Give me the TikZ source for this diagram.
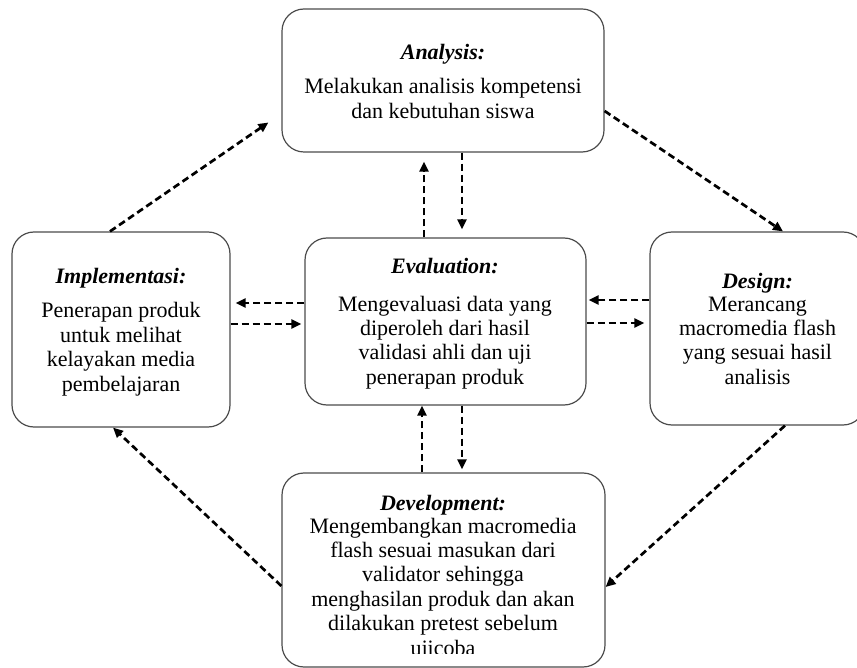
\documentclass[tikz,border=0pt]{standalone}
\usepackage{fontspec}
\setmainfont{Liberation Serif}
\usetikzlibrary{arrows.meta,calc}
\begin{document}
\begin{tikzpicture}[x=1pt,y=-1pt,
  box/.style={draw=black!70, line width=1.2pt, rounded corners=22pt, inner sep=0pt},
  txt/.style={font=\fontsize{22}{24.4}\selectfont, align=center, inner sep=0pt, anchor=base},
  ttl/.style={font=\fontsize{22}{24.4}\selectfont\bfseries\itshape, align=center, inner sep=0pt, anchor=base},
  arr/.style={draw=black, line width=2.7pt, dash pattern=on 7pt off 4pt, -{Triangle[length=10pt,width=9pt]}}
]
\useasboundingbox (0,0) rectangle (857,668);

% boxes
\node[box, minimum width=322pt, minimum height=143pt] (ana) at (443,80.5) {};
\node[box, minimum width=218pt, minimum height=195pt] (imp) at (121,329.5) {};
\node[box, minimum width=281pt, minimum height=167pt] (eva) at (445.5,321.5) {};
\node[box, minimum width=215pt, minimum height=193pt] (des) at (757.5,328.5) {};
\node[box, minimum width=323pt, minimum height=194pt] (dev) at (443.5,570) {};

% texts (positioned at baseline of last line)
\node[ttl] (anat) at (443,59.5) {Analysis:};
\node[txt] (anab) at (443,118.4) {Melakukan analisis kompetensi\\dan kebutuhan siswa};
\node[ttl] (impt) at (121,283.5) {Implementasi:};
\node[txt] (impb) at (121,391.2) {Penerapan produk\\untuk melihat\\kelayakan media\\pembelajaran};
\node[ttl] (evat) at (445,273.5) {Evaluation:};
\node[txt] (evab) at (445,384.2) {Mengevaluasi data yang\\diperoleh dari hasil\\validasi ahli dan uji\\penerapan produk};
\node[ttl] (dest) at (757.5,289) {Design:};
\node[txt] (desb) at (757.5,384.2) {Merancang\\macromedia flash\\yang sesuai hasil\\analisis};
\node[ttl] (devt) at (443,510) {Development:};
\node[txt] (devb) at (443,630.6) {Mengembangkan macromedia\\flash sesuai masukan dari\\validator sehingga\\menghasilan produk dan akan\\dilakukan pretest sebelum};
\begin{scope}
  \clip (282,637) rectangle (605,653.5);
  \node[txt] (devc) at (443,655) {ujicoba};
\end{scope}

% free ends
\coordinate (e1) at ($(ana.west)+(-13,42)$);
\coordinate (e5) at ($(ana.south)+(-19,9)$);
\coordinate (e6) at ($(eva.north)+(16.5,-8)$);
\coordinate (e8) at ($(dev.north)+(18.5,-3)$);
\coordinate (e9) at ($(imp.east)+(5,-26.5)$);
\coordinate (e10) at ($(eva.west)+(-3,2.5)$);
\coordinate (e11) at ($(eva.east)+(2,-21.5)$);
\coordinate (e12) at ($(des.west)+(-5,-5.5)$);

% outer cycle
\draw[arr] ($(imp.north)+(-11,0)$) -- (e1);
\draw[arr] ($(ana.east)+(0,30.5)$) -- ($(des.north)+(25.5,0)$);
\draw[arr] ($(des.south)+(27.5,0)$) -- ($(dev.east)+(0,17)$);
\draw[arr] ($(dev.west)+(0,16)$) -- ($(imp.south)+(-8,0)$);

% vertical pairs
\draw[arr] ($(eva.north)+(-21.5,0)$) -- (e5);
\draw[arr] ($(ana.south)+(19,0)$) -- (e6);
\draw[arr] ($(dev.north)+(-21.5,0)$) -- ($(eva.south)+(-23.5,0)$);
\draw[arr] ($(eva.south)+(16.5,0)$) -- (e8);

% horizontal pairs
\draw[arr] ($(eva.west)+(0,-18.5)$) -- (e9);
\draw[arr] ($(imp.east)+(0,-5.5)$) -- (e10);
\draw[arr] ($(des.west)+(0,-28.5)$) -- (e11);
\draw[arr] ($(eva.east)+(0,1.5)$) -- (e12);
\end{tikzpicture}
\end{document}
